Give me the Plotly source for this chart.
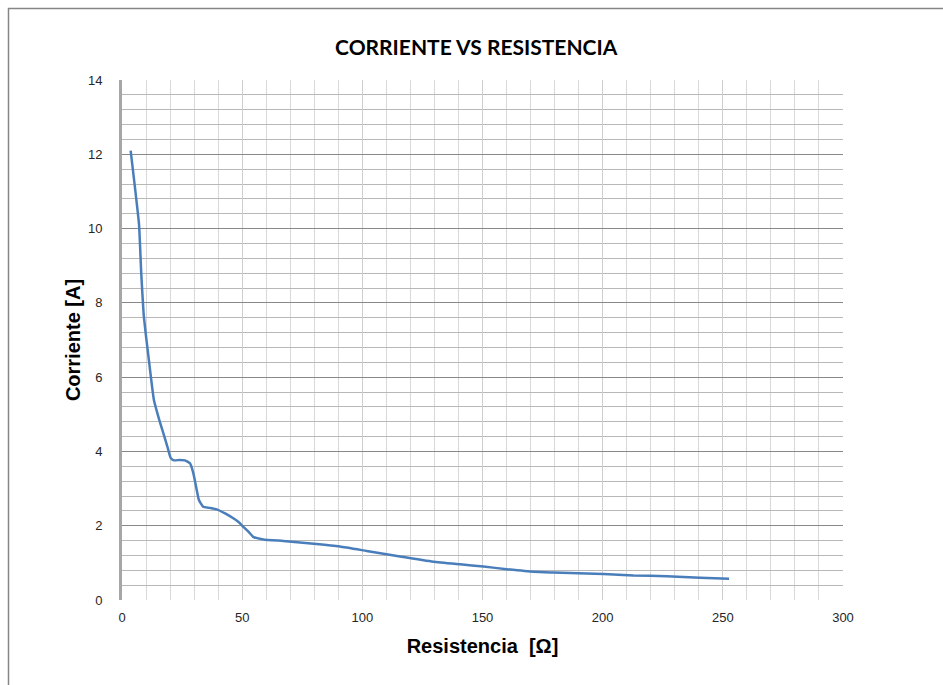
import plotly.graph_objects as go

# Measured current through the load as the resistance is increased
resistencia = [3.6, 5.4, 7.1, 8.0, 9.0, 10.0, 11.2, 12.6, 13.3, 14.2, 15.5,
               17.2, 19.0, 20.3, 21.6, 24.0, 26.2, 28.3, 29.7, 31.1, 32.0,
               33.8, 36.5, 39.4, 42.9, 46.3, 48.5, 50.5, 52.6, 54.6, 58.8,
               67.1, 81.0, 90.7, 101.8, 115.7, 129.6, 140.7, 150.4, 160.1,
               171.2, 179.5, 200.3, 212.8, 226.7, 240.5, 252.6]
corriente = [12.1, 11.1, 10.1, 8.8, 7.7, 7.1, 6.45, 5.7, 5.38, 5.15, 4.85,
             4.49, 4.1, 3.82, 3.76, 3.77, 3.76, 3.68, 3.41, 2.96, 2.69,
             2.51, 2.48, 2.44, 2.33, 2.20, 2.10, 1.97, 1.84, 1.70, 1.63,
             1.59, 1.51, 1.44, 1.32, 1.17, 1.03, 0.96, 0.90, 0.83,
             0.76, 0.74, 0.70, 0.66, 0.64, 0.60, 0.57]

x_ticks = [0, 50, 100, 150, 200, 250, 300]
y_ticks = [0, 2, 4, 6, 8, 10, 12, 14]

fig = go.Figure()
fig.add_trace(go.Scatter(
    x=resistencia, y=corriente, mode="lines",
    line=dict(color="#4A7EBB", width=2.5, shape="spline", smoothing=0.4),
    hoverinfo="skip", showlegend=False,
))

tick_font = dict(family="Liberation Sans, Arial, sans-serif", size=13, color="#262626")
title_font = dict(family="Liberation Sans, Arial, sans-serif", size=20, color="#000000")

fig.update_layout(
    width=943, height=685,
    margin=dict(l=122, r=100, t=80, b=85),
    paper_bgcolor="white", plot_bgcolor="white",
    title=dict(text="<b>CORRIENTE VS RESISTENCIA</b>",
               font=dict(family="Lato, Open Sans, sans-serif", size=21, color="#000000"),
               x=0.505, xanchor="center", y=1 - 48 / 685, yanchor="middle"),
    xaxis=dict(range=[0, 300], tickvals=x_ticks, ticks="", tickfont=tick_font,
               ticklabelstandoff=8,
               showgrid=True, gridcolor="#cfcfcf", gridwidth=1,
               minor=dict(tickmode="linear", tick0=0, dtick=10, showgrid=True,
                          gridcolor="#d9d9d9", gridwidth=1),
               showline=False, zeroline=False,
               title=dict(text="<b>Resistencia\u00a0\u00a0[Ω]</b>", font=title_font, standoff=14)),
    yaxis=dict(range=[0, 14], tickvals=y_ticks, ticks="", tickfont=tick_font,
               ticklabelstandoff=14,
               showgrid=True, gridcolor="#888888", gridwidth=1,
               minor=dict(tickmode="linear", tick0=0, dtick=0.4, showgrid=True,
                          gridcolor="#b8b8b8", gridwidth=1),
               showline=True, linecolor="#a6a6a6", linewidth=3, zeroline=False,
               title=dict(text="<b>Corriente [A]</b>", font=title_font, standoff=2)),
    shapes=[dict(type="rect", xref="paper", yref="paper",
                 x0=(8.5 - 122) / 721, x1=2.0, y0=-1.0, y1=(600 - 8.5) / 520,
                 line=dict(color="#868686", width=1.5), layer="below")],
)

fig.write_html("out.html")
